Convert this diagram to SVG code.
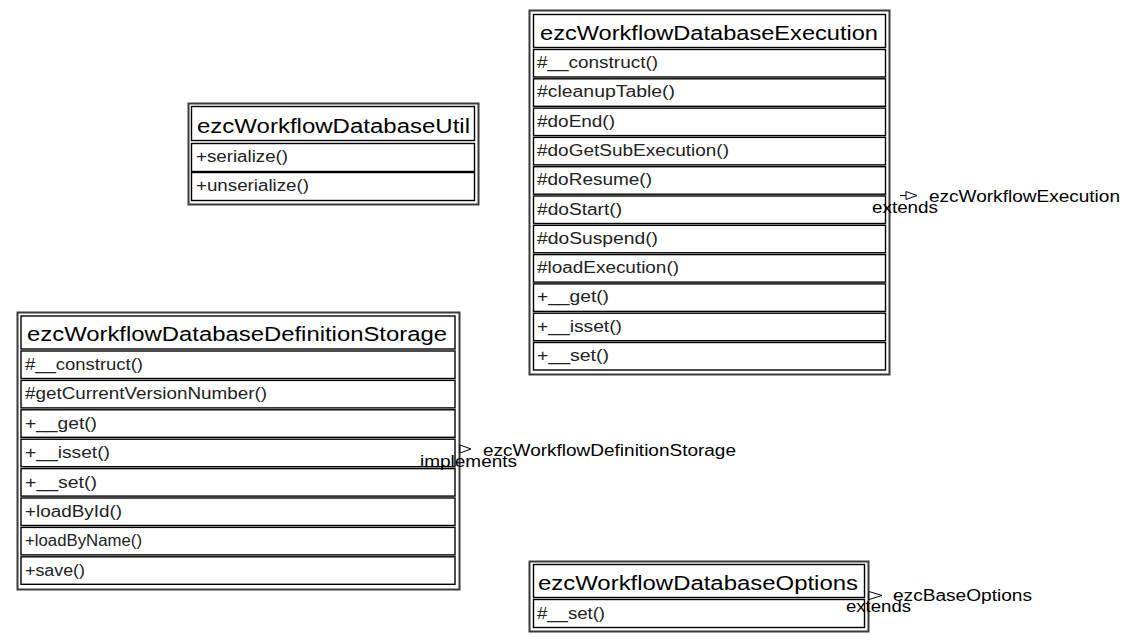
<svg xmlns="http://www.w3.org/2000/svg" width="1139" height="643" viewBox="0 0 1139 643">
<style>
.outer{fill:#fff;stroke:#3a3a3a;stroke-width:2}
.cell{fill:#fff;stroke:#000;stroke-width:1.4}
.title{font-family:"Liberation Sans",Arial,sans-serif;font-size:20px;fill:#000}
.row{font-family:"Liberation Sans",Arial,sans-serif;font-size:16px;fill:#222}
.lbl{font-family:"Liberation Sans",Arial,sans-serif;font-size:16px;fill:#000}
.edge{fill:none;stroke:#000;stroke-width:1}
.head{fill:#fff;stroke:#000;stroke-width:1}
</style>
<rect width="1139" height="643" fill="#fff"/>

<g id="ezcWorkflowDatabaseUtil">
<rect class="outer" x="188.5" y="103.5" width="290" height="101"/>
<rect class="cell" x="191.5" y="106.5" width="283" height="34"/>
<rect class="cell" x="191.5" y="143.5" width="283" height="28"/>
<rect class="cell" x="191.5" y="172.5" width="283" height="28"/>
<text class="title" x="197" y="133" textLength="273" lengthAdjust="spacingAndGlyphs">ezcWorkflowDatabaseUtil</text>
<text class="row" x="196" y="162" textLength="92" lengthAdjust="spacingAndGlyphs">+serialize()</text>
<text class="row" x="196" y="191" textLength="113" lengthAdjust="spacingAndGlyphs">+unserialize()</text>
</g>

<g id="ezcWorkflowDatabaseExecution">
<rect class="outer" x="529.5" y="10.5" width="360" height="364"/>
<rect class="cell" x="533.5" y="14.5" width="352" height="33"/>
<rect class="cell" x="533.5" y="49.5" width="352" height="27.5"/>
<rect class="cell" x="533.5" y="78.8" width="352" height="27.5"/>
<rect class="cell" x="533.5" y="108.1" width="352" height="27.5"/>
<rect class="cell" x="533.5" y="137.4" width="352" height="27.5"/>
<rect class="cell" x="533.5" y="166.7" width="352" height="27.5"/>
<rect class="cell" x="533.5" y="196" width="352" height="27.5"/>
<rect class="cell" x="533.5" y="225.3" width="352" height="27.5"/>
<rect class="cell" x="533.5" y="254.6" width="352" height="27.5"/>
<rect class="cell" x="533.5" y="283.9" width="352" height="27.5"/>
<rect class="cell" x="533.5" y="313.2" width="352" height="27.5"/>
<rect class="cell" x="533.5" y="342.5" width="352" height="27.5"/>
<text class="title" x="540" y="40" textLength="338" lengthAdjust="spacingAndGlyphs">ezcWorkflowDatabaseExecution</text>
<text class="row" x="537" y="68" textLength="121" lengthAdjust="spacingAndGlyphs">#__construct()</text>
<text class="row" x="537" y="97.3" textLength="138" lengthAdjust="spacingAndGlyphs">#cleanupTable()</text>
<text class="row" x="537" y="126.6" textLength="78" lengthAdjust="spacingAndGlyphs">#doEnd()</text>
<text class="row" x="537" y="155.9" textLength="192" lengthAdjust="spacingAndGlyphs">#doGetSubExecution()</text>
<text class="row" x="537" y="185.2" textLength="115" lengthAdjust="spacingAndGlyphs">#doResume()</text>
<text class="row" x="537" y="214.5" textLength="85" lengthAdjust="spacingAndGlyphs">#doStart()</text>
<text class="row" x="537" y="243.8" textLength="121" lengthAdjust="spacingAndGlyphs">#doSuspend()</text>
<text class="row" x="537" y="273.1" textLength="142" lengthAdjust="spacingAndGlyphs">#loadExecution()</text>
<text class="row" x="537" y="302.4" textLength="72" lengthAdjust="spacingAndGlyphs">+__get()</text>
<text class="row" x="537" y="331.7" textLength="85" lengthAdjust="spacingAndGlyphs">+__isset()</text>
<text class="row" x="537" y="361" textLength="72" lengthAdjust="spacingAndGlyphs">+__set()</text>
</g>

<g id="ezcWorkflowDatabaseDefinitionStorage">
<rect class="outer" x="17.5" y="312.5" width="442" height="277"/>
<rect class="cell" x="21" y="316" width="434" height="33"/>
<rect class="cell" x="21" y="351" width="434" height="27.5"/>
<rect class="cell" x="21" y="380.4" width="434" height="27.5"/>
<rect class="cell" x="21" y="409.8" width="434" height="27.5"/>
<rect class="cell" x="21" y="439.2" width="434" height="27.5"/>
<rect class="cell" x="21" y="468.6" width="434" height="27.5"/>
<rect class="cell" x="21" y="498" width="434" height="27.5"/>
<rect class="cell" x="21" y="527.4" width="434" height="27.5"/>
<rect class="cell" x="21" y="556.8" width="434" height="27.5"/>
<text class="title" x="27" y="341" textLength="420" lengthAdjust="spacingAndGlyphs">ezcWorkflowDatabaseDefinitionStorage</text>
<text class="row" x="25" y="370" textLength="118" lengthAdjust="spacingAndGlyphs">#__construct()</text>
<text class="row" x="25" y="399.4" textLength="242" lengthAdjust="spacingAndGlyphs">#getCurrentVersionNumber()</text>
<text class="row" x="25" y="428.8" textLength="72" lengthAdjust="spacingAndGlyphs">+__get()</text>
<text class="row" x="25" y="458.2" textLength="85" lengthAdjust="spacingAndGlyphs">+__isset()</text>
<text class="row" x="25" y="487.6" textLength="72" lengthAdjust="spacingAndGlyphs">+__set()</text>
<text class="row" x="25" y="517" textLength="97" lengthAdjust="spacingAndGlyphs">+loadById()</text>
<text class="row" x="25" y="546.4" textLength="117" lengthAdjust="spacingAndGlyphs">+loadByName()</text>
<text class="row" x="25" y="575.8" textLength="60" lengthAdjust="spacingAndGlyphs">+save()</text>
</g>

<g id="ezcWorkflowDatabaseOptions">
<rect class="outer" x="529.5" y="561.5" width="339" height="70"/>
<rect class="cell" x="533.5" y="564.5" width="331" height="33"/>
<rect class="cell" x="533.5" y="599.5" width="331" height="28"/>
<text class="title" x="538" y="590" textLength="320" lengthAdjust="spacingAndGlyphs">ezcWorkflowDatabaseOptions</text>
<text class="row" x="537" y="619" textLength="68" lengthAdjust="spacingAndGlyphs">#__set()</text>
</g>

<g id="connectors">
<line class="edge" x1="900" y1="195.5" x2="906" y2="195.5"/>
<polygon class="head" points="906,191.5 917,195.5 906,199.5"/>
<text class="lbl" x="929" y="202" textLength="191" lengthAdjust="spacingAndGlyphs">ezcWorkflowExecution</text>
<text class="lbl" x="872" y="213" textLength="66" lengthAdjust="spacingAndGlyphs">extends</text>

<polygon class="head" points="460,445 471,449 460,453"/>
<text class="lbl" x="483" y="456" textLength="253" lengthAdjust="spacingAndGlyphs">ezcWorkflowDefinitionStorage</text>
<text class="lbl" x="420" y="467" textLength="97" lengthAdjust="spacingAndGlyphs">implements</text>

<polygon class="head" points="869,591.5 882,595.5 869,599.5"/>
<text class="lbl" x="893" y="601" textLength="139" lengthAdjust="spacingAndGlyphs">ezcBaseOptions</text>
<text class="lbl" x="846" y="612" textLength="65" lengthAdjust="spacingAndGlyphs">extends</text>
</g>
</svg>
